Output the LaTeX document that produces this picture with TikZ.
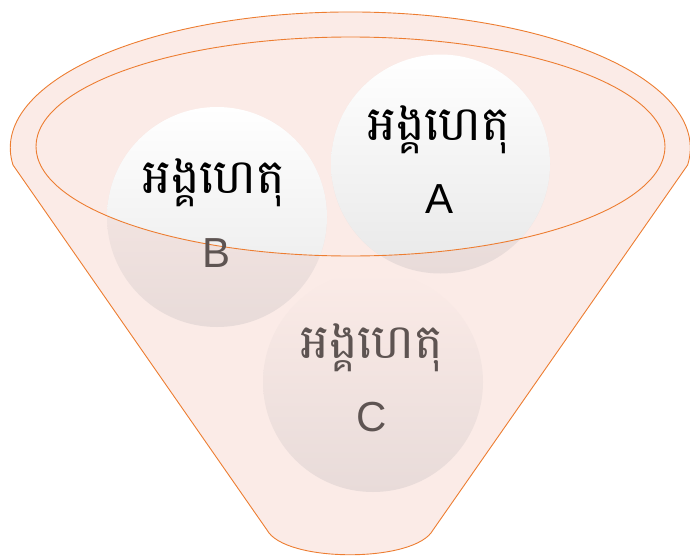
\documentclass[tikz,border=0pt]{standalone}
\usepackage{fontspec}
\newfontfamily\khmerfont[Script=Khmer]{Battambang}
\newfontfamily\latfont{Liberation Sans}
\definecolor{funnelfill}{RGB}{251,235,231}
\definecolor{edge}{RGB}{237,125,49}
\definecolor{ballbot}{RGB}{232,232,232}
\definecolor{ballpink}{RGB}{232,219,217}
\definecolor{dimtext}{RGB}{94,84,82}
\begin{document}
\begin{tikzpicture}[x=1pt,y=-1pt,
  outline/.style={draw=edge, line width=0.9pt},
  khmer/.style={font=\khmerfont\fontsize{48}{52}\selectfont, anchor=base, inner sep=0},
  letter/.style={font=\latfont\fontsize{42}{46}\selectfont, anchor=base, inner sep=0},
  pinkball/.style={top color=funnelfill, middle color=funnelfill!80!ballpink, bottom color=ballpink},
  whiteball/.style={top color=white, middle color=white, bottom color=ballbot}]
\useasboundingbox (0,0) rectangle (690,557);
% funnel body
\fill[funnelfill] (13,165) arc[start angle=172.8, end angle=367.2, x radius=340, y radius=136]
  -- (433,530) .. controls (415,563) and (285,563) .. (267,530) -- cycle;
% balls (seen through the funnel wall)
\shade[pinkball] (373,382) circle[radius=110];
\shade[pinkball] (217,217) circle[radius=110];
\shade[pinkball] (440.5,164) circle[radius=109.5];
% balls seen through the opening
\begin{scope}
  \clip (350.5,146.5) ellipse[x radius=314.5, y radius=109.5];
  \shade[whiteball] (217,217) circle[radius=110];
  \shade[whiteball] (440.5,164) circle[radius=109.5];
\end{scope}
% outlines
\draw[outline] (13,165) arc[start angle=172.8, end angle=367.2, x radius=340, y radius=136]
  -- (433,530) .. controls (415,563) and (285,563) .. (267,530) -- cycle;
\draw[outline] (350.5,146.5) ellipse[x radius=314.5, y radius=109.5];
% labels
\node[khmer] (ka) at (439,140) {អង្គហេតុ};
\node[letter] (la) at (440,213) {A};
\node[khmer] (kb) at (214,193) {អង្គហេតុ};
\node[letter, text=dimtext] (lb) at (217,267) {B};
\node[khmer, text=dimtext] (kc) at (372,358) {អង្គហេតុ};
\node[letter, text=dimtext] (lc) at (372,431) {C};
\end{tikzpicture}
\end{document}
